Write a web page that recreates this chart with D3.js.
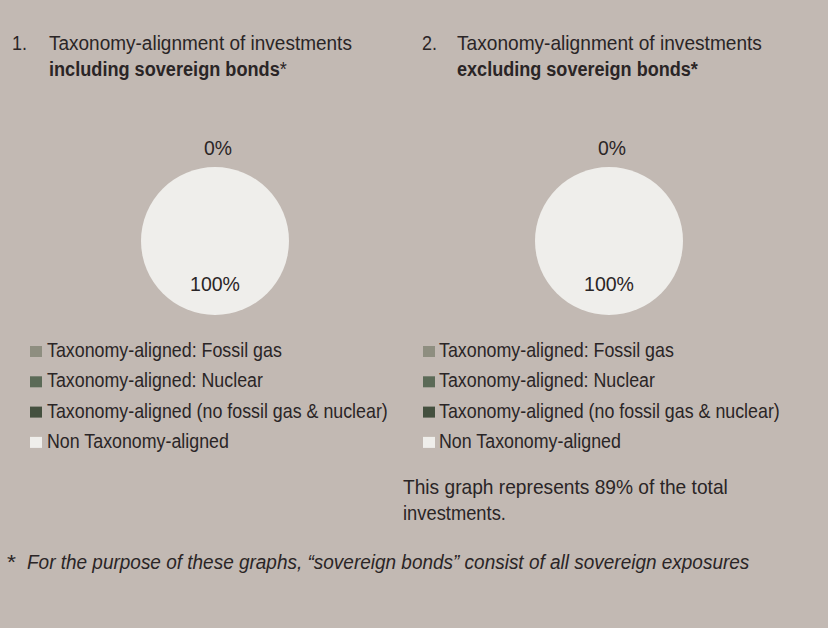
<!DOCTYPE html>
<html>
<head>
<meta charset="utf-8">
<script src="https://cdn.jsdelivr.net/npm/d3@7"></script>
<style>
  html, body { margin: 0; padding: 0; background: #c2b9b3; }
  svg { display: block; }
  text { font-family: "Liberation Sans", Arial, sans-serif; fill: #2a2526; }
</style>
</head>
<body>
<svg id="chart" width="828" height="628"></svg>
<script>
// categories of the taxonomy split
const categories = [
  "Taxonomy-aligned: Fossil gas",
  "Taxonomy-aligned: Nuclear",
  "Taxonomy-aligned (no fossil gas & nuclear)",
  "Non Taxonomy-aligned"
];
const colors = ["#8e8e80", "#5b6a57", "#44503f", "#efeeeb"];

// values in % for each graph
const inclValues = [0, 0, 0, 100];
const exclValues = [0, 0, 0, 100];

const titleNums = ["1.", "2."];
const titleLine1 = "Taxonomy-alignment of investments";
const titleLine2 = ["including sovereign bonds", "excluding sovereign bonds"];
const coverageNote = ["This graph represents 89% of the total", "investments."];
const footnote = "For the purpose of these graphs, \u201Csovereign bonds\u201D consist of all sovereign exposures";

const svg = d3.select("#chart");
svg.append("rect").attr("width", 828).attr("height", 628).attr("fill", "#c2b9b3");

// the source font is a condensed face: squeeze text horizontally to the measured width
function squeeze(sel, x, y, width, anchor) {
  const w = sel.node().getComputedTextLength();
  const k = width / w;
  sel.attr("text-anchor", anchor || "start")
    .attr("transform", `translate(${x},${y}) scale(${k},1)`);
  return sel;
}

const FS = 21;
const R = 74;
const pie = d3.pie().sort(null).value(d => d);
const arc = d3.arc().innerRadius(0).outerRadius(R);
const insideArc = d3.arc().innerRadius(R * 0.57).outerRadius(R * 0.57);
const outsideArc = d3.arc().innerRadius(R + 19).outerRadius(R + 19);

const panels = [
  { values: inclValues, cx: 215, numX: 12, textX: 49, legX: 30, legTextX: 47,
    line2Len: 238, line1Len: 303, boldAst: false },
  { values: exclValues, cx: 609, numX: 422, textX: 457, legX: 423, legTextX: 439,
    line2Len: 241, line1Len: 305, boldAst: true }
];
const legendLens = [235, 216, 341, 182];

panels.forEach((p, i) => {
  const g = svg.append("g");

  // title
  squeeze(g.append("text").attr("font-size", FS).text(titleNums[i]), p.numX, 50, 15);
  squeeze(g.append("text").attr("font-size", FS).text(titleLine1), p.textX, 50, p.line1Len);
  const t2 = g.append("text").attr("font-size", FS);
  t2.append("tspan").attr("font-weight", "bold").text(titleLine2[i]);
  t2.append("tspan").attr("font-weight", p.boldAst ? "bold" : "normal").text("*");
  squeeze(t2, p.textX, 76, p.line2Len);

  // pie
  const pg = g.append("g").attr("transform", `translate(${p.cx},241)`);
  pg.selectAll("path")
    .data(pie(p.values))
    .join("path")
    .attr("d", arc)
    .attr("fill", (d, j) => colors[j]);

  // labels: aligned total (outside) and non-aligned share (inside)
  const aligned = d3.sum(p.values.slice(0, 3));
  const groups = pie([aligned, p.values[3]]);
  groups.forEach(d => {
    const small = (d.endAngle - d.startAngle) < 0.4;
    const pos = small ? outsideArc.centroid(d) : insideArc.centroid(d);
    const lbl = pg.append("text")
      .attr("dy", "0.35em")
      .attr("font-size", FS)
      .text(d.data + "%");
    squeeze(lbl, pos[0] + (small ? 3 : 0), pos[1], d.data >= 100 ? 50 : 28, "middle");
  });

  // legend
  const leg = g.selectAll("g.leg")
    .data(categories)
    .join("g")
    .attr("class", "leg")
    .attr("transform", (d, j) => `translate(0,${357 + j * 30.3})`);
  leg.append("rect")
    .attr("x", p.legX).attr("y", -11)
    .attr("width", 12).attr("height", 11)
    .attr("fill", (d, j) => colors[j]);
  leg.append("text")
    .attr("font-size", FS)
    .text(d => d)
    .each(function (d, j) { squeeze(d3.select(this), p.legTextX, 0, legendLens[j]); });
});

// coverage note under second graph
squeeze(svg.append("text").attr("font-size", FS).text(coverageNote[0]), 403, 494, 325);
squeeze(svg.append("text").attr("font-size", FS).text(coverageNote[1]), 403, 520, 103);

// footnote
squeeze(svg.append("text").attr("font-size", FS).text("*"), 7, 569, 9);
squeeze(svg.append("text").attr("font-size", FS).attr("font-style", "italic").text(footnote), 27, 569, 723);
</script>
</body>
</html>
